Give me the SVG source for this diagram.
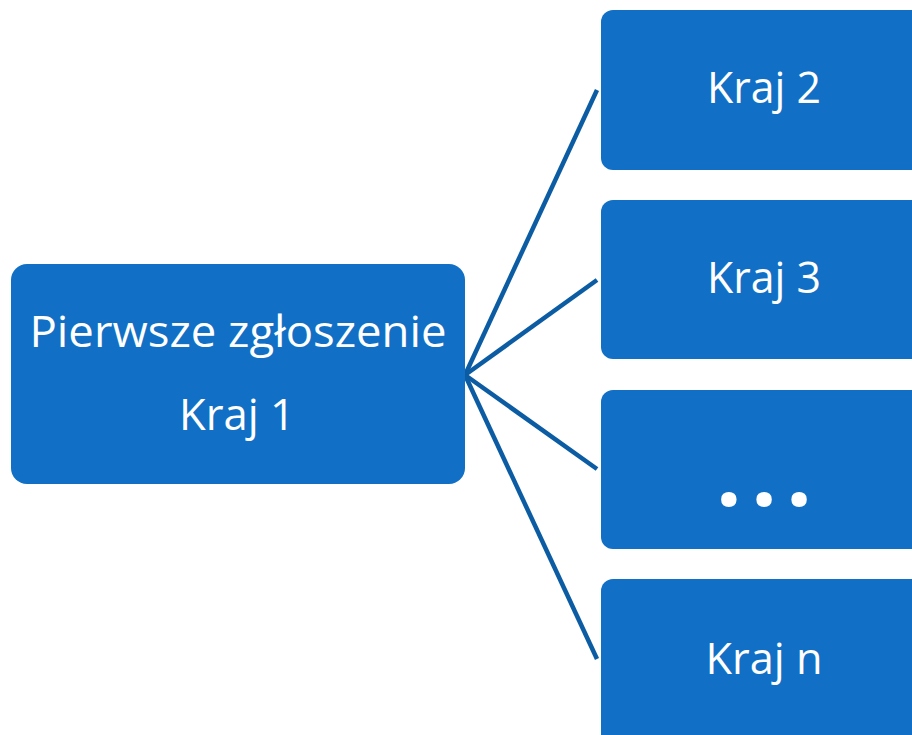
<svg xmlns="http://www.w3.org/2000/svg" width="912" height="735" viewBox="0 0 912 735">
<style>
.box{fill:#1170C5;}
.t{fill:#ffffff;font-family:"Open Sans","Noto Sans","Liberation Sans",sans-serif;font-size:44px;text-anchor:middle;}
.dots{fill:#ffffff;font-family:"Open Sans","Noto Sans","Liberation Sans",sans-serif;font-size:90px;font-weight:bold;text-anchor:middle;}
.c{stroke:#0B5CA3;stroke-width:4.5;fill:none;stroke-linecap:butt;}
</style>
<rect width="912" height="735" fill="#ffffff"/>
<g id="connectors">
<line class="c" x1="465" y1="375" x2="597" y2="90"/>
<line class="c" x1="465" y1="375" x2="597" y2="280"/>
<line class="c" x1="465" y1="375" x2="597" y2="469"/>
<line class="c" x1="465" y1="375" x2="597" y2="659"/>
</g>
<g id="n1">
<rect class="box" x="11" y="264" width="454" height="220" rx="16"/>
<text class="t" x="238" y="347" textLength="417" lengthAdjust="spacingAndGlyphs">Pierwsze zgłoszenie</text>
<text class="t" x="237" y="430" textLength="116" lengthAdjust="spacingAndGlyphs">Kraj 1</text>
</g>
<g id="n2">
<rect class="box" x="601" y="10" width="330" height="160" rx="12"/>
<text class="t" x="764" y="103" textLength="114" lengthAdjust="spacingAndGlyphs">Kraj 2</text>
</g>
<g id="n3">
<rect class="box" x="601" y="200" width="330" height="159" rx="12"/>
<text class="t" x="764" y="293" textLength="114" lengthAdjust="spacingAndGlyphs">Kraj 3</text>
</g>
<g id="n4">
<rect class="box" x="601" y="390" width="330" height="159" rx="12"/>
<text class="dots" x="764" y="506" textLength="96" lengthAdjust="spacing">...</text>
</g>
<g id="n5">
<rect class="box" x="601" y="579" width="330" height="170" rx="12"/>
<text class="t" x="764" y="674" textLength="117" lengthAdjust="spacingAndGlyphs">Kraj n</text>
</g>
</svg>
